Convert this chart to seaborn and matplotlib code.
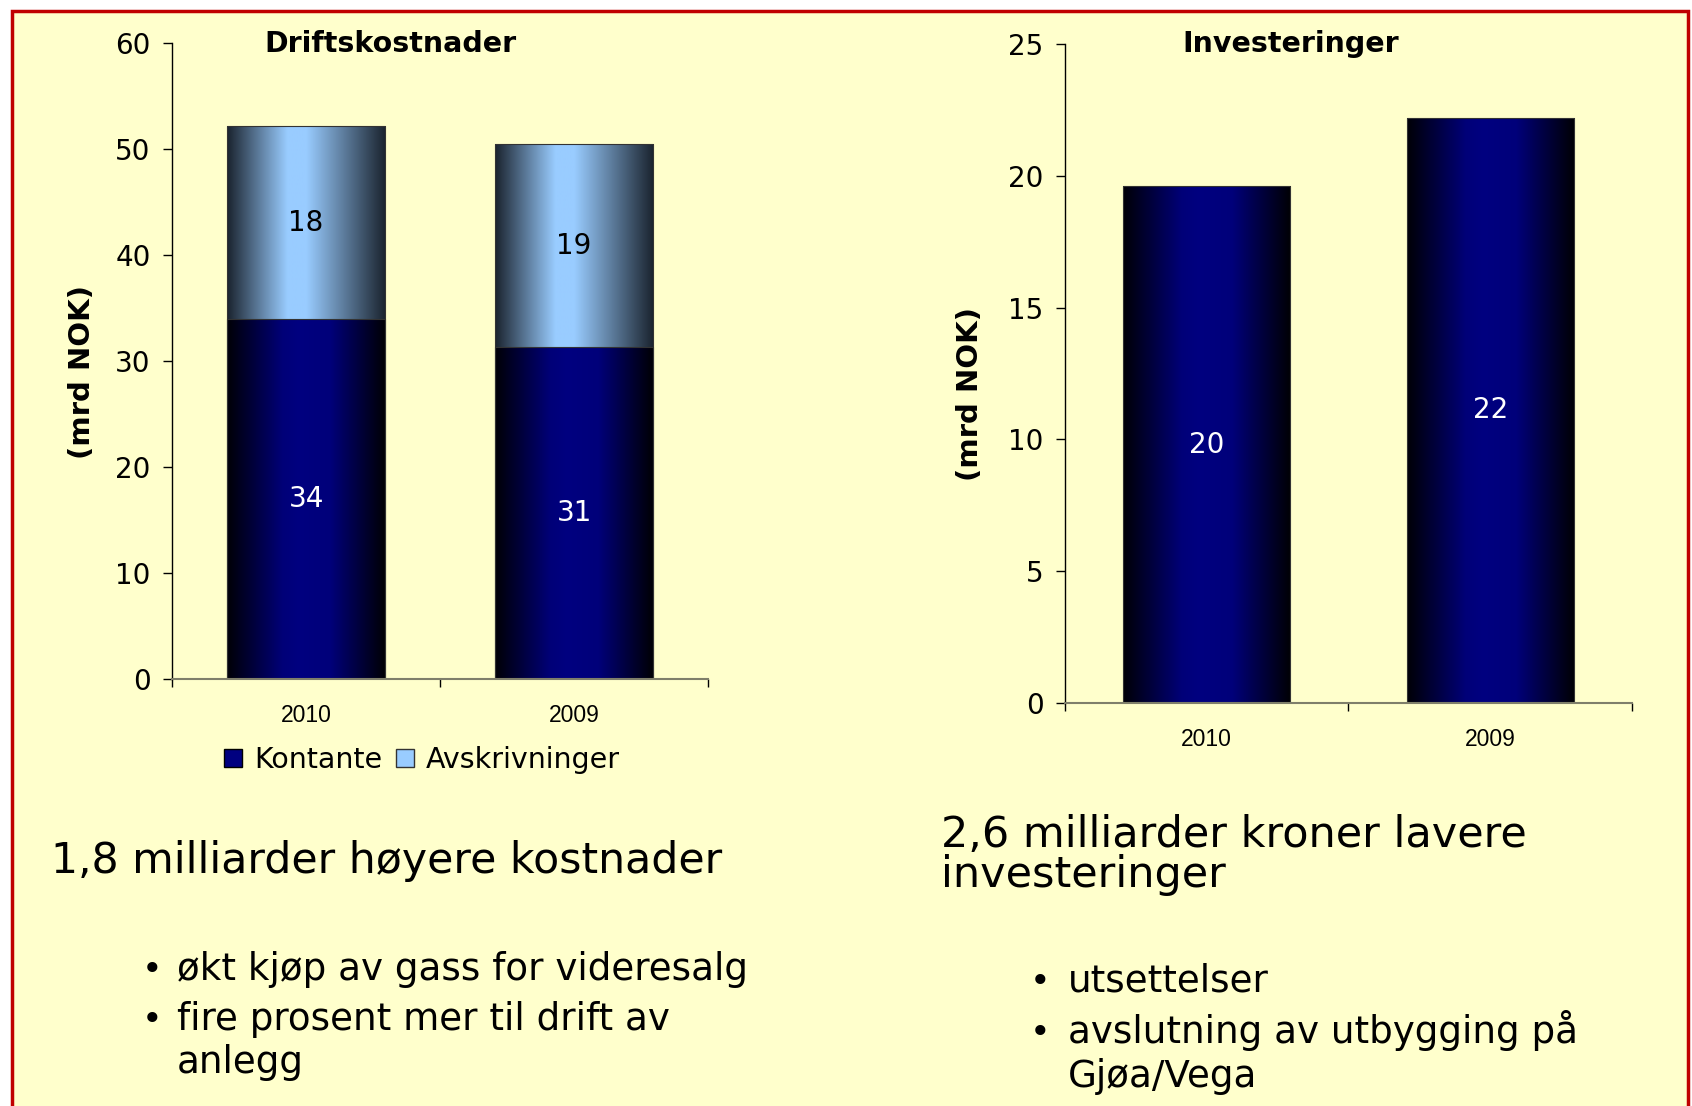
import numpy as np
import pandas as pd
import seaborn as sns
import matplotlib.pyplot as plt
from matplotlib.colors import LinearSegmentedColormap
from matplotlib.patches import Patch, Rectangle

# data (mrd NOK)
years = ["2010", "2009"]
kontante = [33.9, 31.3]
avskrivninger = [18.2, 19.1]
kontante_labels = ["34", "31"]
avskr_labels = ["18", "19"]
investeringer = [19.6, 22.2]
invest_labels = ["20", "22"]

df = pd.DataFrame({"year": years, "kontante": kontante, "avskr": avskrivninger})
df["total"] = df["kontante"] + df["avskr"]
df_inv = pd.DataFrame({"year": years, "invest": investeringer})

sns.set_style("ticks")
plt.rcParams["font.family"] = ["DejaVu Sans"]
plt.rcParams["text.color"] = "black"
plt.rcParams["xtick.color"] = "black"
plt.rcParams["ytick.color"] = "black"

BG = "#ffffcc"
navy_cmap = LinearSegmentedColormap.from_list(
    "navy", [(0, "#000006"), (0.35, "#000078"), (0.45, "#000080"), (0.65, "#00007a"), (1, "#000004")])
light_cmap = LinearSegmentedColormap.from_list(
    "light", [(0, "#1a232e"), (0.38, "#99ccff"), (0.5, "#99ccff"), (1, "#1a232e")])
grad = np.linspace(0, 1, 256).reshape(1, -1)


def gradient_bars(ax, container, cmap):
    # paint a horizontal gradient inside each bar
    for bar in container:
        x0, y0 = bar.get_x(), bar.get_y()
        w, h = bar.get_width(), bar.get_height()
        ax.imshow(grad, cmap=cmap, extent=[x0, x0 + w, y0, y0 + h],
                  aspect="auto", zorder=bar.get_zorder(), interpolation="bilinear")
        bar.set_facecolor("none")
        bar.set_edgecolor("#333333")
        bar.set_linewidth(0.8)
        bar.set_zorder(bar.get_zorder() + 0.1)


def style_axis(ax, ymax, step):
    ax.set_facecolor("none")
    ax.set_xlim(-0.5, 1.5)
    ax.set_ylim(0, ymax)
    ax.set_yticks(np.arange(0, ymax + 1, step))
    ax.set_xlabel("")
    ax.set_ylabel("")
    sns.despine(ax=ax)
    ax.spines["left"].set_color("black")
    ax.spines["left"].set_linewidth(1)
    ax.spines["bottom"].set_color("#7f7f6a")
    ax.spines["bottom"].set_linewidth(1.5)
    ax.tick_params(axis="y", length=6.5, width=1, labelsize=20, pad=9)
    ax.set_xticks([-0.5, 0.5, 1.5], minor=True)
    ax.tick_params(axis="x", which="minor", length=5.5, width=1, direction="out")
    ax.tick_params(axis="x", which="major", length=0, pad=18)
    for lab in ax.get_xticklabels():
        lab.set_fontfamily("Liberation Sans")
        lab.set_fontsize(16.5)


fig = plt.figure(figsize=(16.92, 11.06), dpi=100)
fig.patch.set_facecolor("white")
fig.patches.append(Rectangle((12 / 1692, -0.01), 1676 / 1692, 1.0, transform=fig.transFigure,
                             facecolor=BG, edgecolor="#c00000", linewidth=2.5, zorder=-1))

# Driftskostnader (stacked)
ax1 = fig.add_axes([0.1017, 0.3861, 0.3168, 0.5753])
sns.barplot(data=df, x="year", y="total", ax=ax1, width=0.59, color="#99ccff")
sns.barplot(data=df, x="year", y="kontante", ax=ax1, width=0.59, color="#000080")
gradient_bars(ax1, ax1.containers[0], light_cmap)
gradient_bars(ax1, ax1.containers[1], navy_cmap)
ax1.bar_label(ax1.containers[1], labels=kontante_labels, label_type="center",
              color="white", fontsize=20)
for bar, k, lab in zip(ax1.containers[0], df["kontante"], avskr_labels):
    ax1.text(bar.get_x() + bar.get_width() / 2, (k + bar.get_height()) / 2, lab,
             ha="center", va="center", fontsize=20, color="black", zorder=5)
style_axis(ax1, 60, 10)

# Investeringer
ax2 = fig.add_axes([0.6294, 0.3646, 0.3351, 0.5956])
sns.barplot(data=df_inv, x="year", y="invest", ax=ax2, width=0.59, color="#000080")
gradient_bars(ax2, ax2.containers[0], navy_cmap)
ax2.bar_label(ax2.containers[0], labels=invest_labels, label_type="center",
              color="white", fontsize=20)
style_axis(ax2, 25, 5)

# titles and axis labels
fig.text(390 / 1692, 1 - 52 / 1106, "Driftskostnader", ha="center", va="baseline",
         fontsize=20.5, fontweight="bold")
fig.text(1291 / 1692, 1 - 52 / 1106, "Investeringer", ha="center", va="baseline",
         fontsize=20.5, fontweight="bold")
fig.text(82 / 1692, 1 - 372 / 1106, "(mrd NOK)", rotation=90, ha="center", va="center",
         fontsize=21, fontweight="bold")
fig.text(970 / 1692, 1 - 394 / 1106, "(mrd NOK)", rotation=90, ha="center", va="center",
         fontsize=21, fontweight="bold")

handles = [Patch(facecolor="#000080", edgecolor="black", label="Kontante"),
           Patch(facecolor="#99ccff", edgecolor="#333333", label="Avskrivninger")]
fig.legend(handles=handles, loc="center", bbox_to_anchor=(422 / 1692, 1 - 760 / 1106),
           ncol=2, frameon=False, fontsize=20.5, handlelength=0.62, handleheight=0.62,
           handletextpad=0.43, columnspacing=0.5)

# slide text
def ftext(x, y, s, size):
    fig.text(x / 1692, 1 - y / 1106, s, ha="left", va="baseline", fontsize=size)

ftext(51, 873, "1,8 milliarder høyere kostnader", 30.7)
ftext(941, 847, "2,6 milliarder kroner lavere", 31)
ftext(941, 887, "investeringer", 31)

bullets_left = [(980, "økt kjøp av gass for videresalg", True),
                (1030, "fire prosent mer til drift av", True),
                (1073, "anlegg", False)]
bullets_right = [(992, "utsettelser", True),
                 (1043, "avslutning av utbygging på", True),
                 (1087, "Gjøa/Vega", False)]
for (y, s, b) in bullets_left:
    if b:
        fig.text(152 / 1692, 1 - y / 1106, "•", ha="center", va="baseline", fontsize=25)
    ftext(177, y, s, 26.8)
for (y, s, b) in bullets_right:
    if b:
        fig.text(1040 / 1692, 1 - y / 1106, "•", ha="center", va="baseline", fontsize=25)
    ftext(1068, y, s, 26.8)

fig.savefig("out.png", dpi=100, facecolor=fig.get_facecolor())
